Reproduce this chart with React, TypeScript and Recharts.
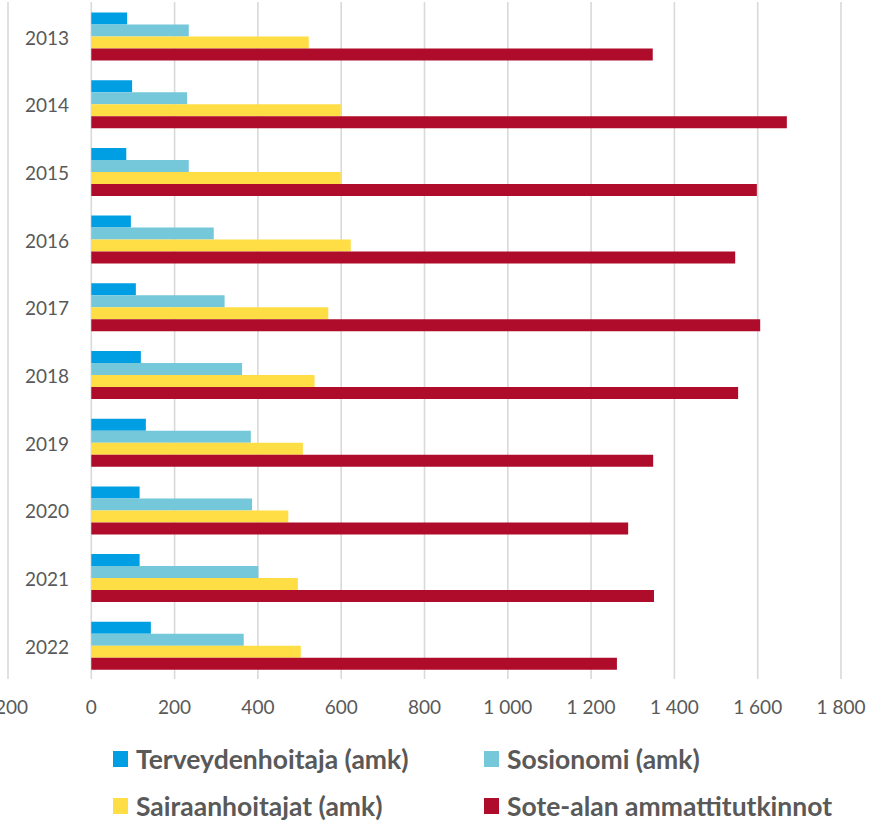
import { BarChart, Bar, XAxis, YAxis, CartesianGrid } from "recharts";

const years = ["2013", "2014", "2015", "2016", "2017", "2018", "2019", "2020", "2021", "2022"];
const terveydenhoitaja = [86, 98, 84, 95, 107, 119, 131, 116, 116, 143];
const sosionomi = [234, 230, 234, 294, 320, 362, 383, 386, 401, 366];
const sairaanhoitajat = [522, 599, 599, 623, 569, 536, 508, 473, 496, 503];
const soteAla = [1348, 1670, 1598, 1546, 1606, 1553, 1349, 1289, 1351, 1262];
const xTicks = [-200, 0, 200, 400, 600, 800, 1000, 1200, 1400, 1600, 1800];

const series = [
  { key: "terv", name: "Terveydenhoitaja (amk)", color: "#009FE3" },
  { key: "sos", name: "Sosionomi (amk)", color: "#75C7DA" },
  { key: "sair", name: "Sairaanhoitajat (amk)", color: "#FFDD44" },
  { key: "sote", name: "Sote-alan ammattitutkinnot", color: "#AE0C2A" },
];

const data = years.map((y, i) => ({
  year: y,
  terv: terveydenhoitaja[i],
  sos: sosionomi[i],
  sair: sairaanhoitajat[i],
  sote: soteAla[i],
}));

const textColor = "#595959";
const font = "Lato, 'Open Sans', sans-serif";

const fmt = (v: number) => {
  const s = String(Math.abs(v)).replace(/\B(?=(\d{3})+(?!\d))/g, "\u00a0");
  return v < 0 ? "-" + s : s;
};

// year labels sit inside the -200..0 strip, like the original
function YearTick(props: any) {
  const { y, payload } = props;
  return (
    <text x={47} y={y + 2} dy="0.35em" textAnchor="middle" fill={textColor} fontSize={19} fontFamily={font}>
      {payload.value}
    </text>
  );
}

export default function App() {
  return (
    <div style={{ position: "absolute", left: 0, top: 0, width: 870, height: 825, background: "#fff" }}>
      <BarChart
        width={870}
        height={740}
        data={data}
        layout="vertical"
        margin={{ top: 2, right: 29, left: 7, bottom: 0 }}
        barCategoryGap="15.5%"
        barGap={0}
      >
        <CartesianGrid horizontal={false} stroke="#d9d9d9" strokeWidth={1.6} />
        <XAxis
          type="number"
          domain={[-200, 1800]}
          ticks={xTicks}
          tickFormatter={fmt}
          axisLine={false}
          tickLine={false}
          tickMargin={16}
          height={61}
          interval={0}
          tick={{ fill: textColor, fontSize: 19, fontFamily: font }}
        />
        <YAxis
          type="category"
          dataKey="year"
          width={1}
          axisLine={false}
          tickLine={false}
          interval={0}
          tick={(p: any) => <YearTick {...p} />}
        />
        {series.map((s) => (
          <Bar key={s.key} dataKey={s.key} name={s.name} fill={s.color} isAnimationActive={false} />
        ))}
      </BarChart>
      <div
        style={{
          position: "absolute",
          left: 113,
          top: 744,
          display: "grid",
          gridTemplateColumns: "371px 380px",
          rowGap: 17,
          fontFamily: font,
          fontWeight: 700,
          fontSize: 26.5,
          color: textColor,
          whiteSpace: "nowrap",
        }}
      >
        {series.map((s) => (
          <div key={s.key} style={{ display: "flex", alignItems: "center", height: 30 }}>
            <span style={{ width: 15, height: 16, background: s.color, marginRight: 8, display: "inline-block" }} />
            <span>{s.name}</span>
          </div>
        ))}
      </div>
    </div>
  );
}
